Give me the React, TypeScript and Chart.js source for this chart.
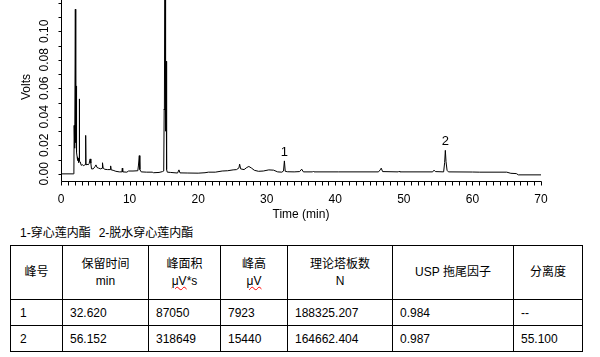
import React, { useEffect, useRef } from 'react';
import { Chart, registerables } from 'chart.js';

Chart.register(...registerables);

// Chromatogram trace: retention time (min) and detector signal (Volts)
const times = [
  0, 1.8, 1.88, 1.92, 1.97, 2.04, 2.09, 2.15, 2.2, 2.24, 2.29, 2.35, 2.42, 2.5, 2.58, 2.64, 2.67, 2.71,
  2.8, 2.95, 3.1, 3.25, 3.45, 3.56, 3.6, 3.65, 3.8, 3.95, 4.1, 4.25, 4.35, 4.45, 4.7, 4.95, 5.1, 5.25,
  5.5, 5.8, 5.98, 6.05, 6.15, 6.4, 6.8, 7.15, 7.24, 7.32, 7.6, 8.0, 8.5, 8.88, 8.94, 9.0, 9.6, 9.85,
  10.5, 11.2, 11.3, 11.42, 11.5, 11.7, 12.5, 13.3, 13.5, 14.3, 14.8, 14.98, 15.05, 15.08, 15.17, 15.25,
  15.33, 15.4, 15.5, 16.0, 17.0, 17.2, 17.35, 18.5, 20.0, 21.0, 21.5, 22.5, 23.5, 24.3, 25.1, 25.6,
  25.95, 26.05, 26.2, 26.7, 27.1, 27.4, 27.8, 28.2, 28.8, 29.5, 30.3, 31.0, 31.6, 32.2, 32.45, 32.58,
  32.7, 33.0, 34.0, 34.8, 35.1, 35.35, 36.7, 36.8, 36.9, 40.5, 46.3, 46.55, 46.7, 46.9, 49.2, 49.3,
  49.4, 54.2, 54.4, 54.6, 55.8, 55.95, 56.05, 56.15, 56.3, 56.5, 60.0, 61.0, 63.0, 65.0, 65.6, 66.4,
  66.7, 70.0,
];
const volts = [
  0, 0, 0.002, 0.034, 0.018, 0.025, 0.1155, 0.022, 0.03, 0.0617, 0.015, 0.012, 0.0095, 0.011, 0.008, 0.01, 0.0526, 0.009,
  0.0085, 0.006, 0.0065, 0.0058, 0.0062, 0.0065, 0.027, 0.0062, 0.0068, 0.0063, 0.0072, 0.0105, 0.0075, 0.0035, 0.0035, 0.005, 0.0063, 0.0045,
  0.004, 0.0035, 0.004, 0.0078, 0.004, 0.0032, 0.003, 0.003, 0.0056, 0.0028, 0.0025, 0.0018, 0.0014, 0.0014, 0.004, 0.0014, 0.0012, 0.002,
  0.002, 0.0022, 0.0062, 0.0128, 0.003, 0.0014, 0.0012, 0.0012, 0.0008, 0.001, 0.0016, 0.002, 0.0455, 0.045, 0.2, 0.03,
  0.079, 0.003, 0.0012, 0.001, 0.0006, 0.0028, 0.0007, 0.0006, 0.0005, 0.0008, 0.0012, 0.0012, 0.002, 0.0022, 0.0028, 0.003,
  0.0042, 0.0068, 0.0035, 0.003, 0.0045, 0.0052, 0.004, 0.0025, 0.0018, 0.002, 0.0028, 0.0026, 0.0014, 0.0012, 0.002, 0.0091,
  0.0018, 0.0015, 0.0014, 0.0016, 0.0033, 0.0014, 0.0014, 0.0019, 0.0014, 0.0014, 0.0014, 0.0028, 0.004, 0.0016, 0.0014, 0.0019,
  0.0014, 0.0014, 0.0026, 0.0016, 0.0014, 0.008, 0.0165, 0.0086, 0.0025, 0.0014, 0.0013, 0.0012, 0.0012, 0.0012, 0.0004, 0.0002,
  -0.0007, -0.0007,
];

const xMin = 0;
const xMax = 70;
const xMajorStep = 10;
const xMinorStep = 1;
const yMin = -0.005;
const yMax = 0.122;
const yMinorStep = 0.01;
const yTickValues = [0, 0.02, 0.04, 0.06, 0.08, 0.1];
const yTickLabels = ['0.00', '0.02', '0.04', '0.06', '0.08', '0.10'];

const peakNames = ['1', '2'];
const peakTimes = [32.58, 56.05];
const peakHeights = [0.0091, 0.0165];

const legendItems = ['1-穿心莲内酯', '2-脱水穿心莲内酯'];
const headers = [['峰号'], ['保留时间', 'min'], ['峰面积', 'μV*s'], ['峰高', 'μV'], ['理论塔板数', 'N'], ['USP 拖尾因子'], ['分离度']];
const rows = [
  ['1', '32.620', '87050', '7923', '188325.207', '0.984', '--'],
  ['2', '56.152', '318649', '15440', '164662.404', '0.987', '55.100'],
];

const FONT = '"Liberation Sans", Arial, "Noto Sans CJK SC", sans-serif';

const axesPlugin = {
  id: 'chromAxes',
  afterDraw(chart: any) {
    const { ctx, chartArea: a } = chart;
    const x = chart.scales.x;
    const y = chart.scales.y;
    ctx.save();
    ctx.strokeStyle = '#000';
    ctx.lineWidth = 1;
    const ax = Math.round(a.left) + 0.5;
    const ay = Math.round(a.bottom) + 0.5;
    ctx.beginPath();
    ctx.moveTo(ax, a.top);
    ctx.lineTo(ax, ay);
    ctx.lineTo(Math.round(a.right) + 0.5, ay);
    for (let t = xMin; t <= xMax + 1e-9; t += xMinorStep) {
      const px = Math.round(x.getPixelForValue(t)) + 0.5;
      ctx.moveTo(px, ay);
      ctx.lineTo(px, ay + 4);
    }
    for (let v = 0; v <= yMax + 1e-9; v += yMinorStep) {
      const py = Math.round(y.getPixelForValue(v)) + 0.5;
      ctx.moveTo(ax, py);
      ctx.lineTo(ax - 3, py);
    }
    ctx.stroke();

    ctx.fillStyle = '#000';
    ctx.font = '12px ' + FONT;
    ctx.textAlign = 'center';
    ctx.textBaseline = 'middle';
    for (let t = xMin; t <= xMax; t += xMajorStep) {
      ctx.fillText(String(t), x.getPixelForValue(t), ay + 18.5);
    }
    ctx.fillText('Time (min)', (a.left + a.right) / 2, ay + 33);

    yTickValues.forEach((v, i) => {
      ctx.save();
      ctx.translate(ax - 17, y.getPixelForValue(v));
      ctx.rotate(-Math.PI / 2);
      ctx.fillText(yTickLabels[i], 0, 0);
      ctx.restore();
    });
    ctx.save();
    ctx.translate(27, 87);
    ctx.rotate(-Math.PI / 2);
    ctx.fillText('Volts', 0, 0);
    ctx.restore();

    ctx.font = '13px ' + FONT;
    ctx.textBaseline = 'alphabetic';
    peakNames.forEach((n, i) => {
      ctx.fillText(n, x.getPixelForValue(peakTimes[i]), y.getPixelForValue(peakHeights[i]) - 5);
    });
    ctx.restore();
  },
};

function ChromChart() {
  const ref = useRef<HTMLCanvasElement | null>(null);
  useEffect(() => {
    if (!ref.current) return;
    const chart = new Chart(ref.current, {
      type: 'line',
      data: {
        datasets: [
          {
            data: times.map((t, i) => ({ x: t, y: volts[i] })),
            borderColor: '#000',
            borderWidth: 1,
            pointRadius: 0,
            tension: 0,
            fill: false,
          },
        ],
      },
      options: {
        animation: false,
        responsive: false,
        parsing: false as any,
        layout: { padding: { left: 61, right: 59, top: 0, bottom: 44 } },
        plugins: { legend: { display: false }, tooltip: { enabled: false } },
        scales: {
          x: { type: 'linear', min: xMin, max: xMax, display: false },
          y: { type: 'linear', min: yMin, max: yMax, display: false },
        },
      },
      plugins: [axesPlugin],
    });
    return () => chart.destroy();
  }, []);
  return <canvas ref={ref} width={600} height={225} style={{ position: 'absolute', left: 0, top: 0, width: 600, height: 225 }} />;
}

// table grid lines (page px)
const colEdges = [10, 62, 148, 220, 287, 392, 513, 582];
const rowEdges = [245, 299, 325, 351];

function CellText({ line }: { line: string }) {
  if (line.startsWith('μV')) {
    return (
      <div>
        <span style={{ textDecoration: 'underline wavy red', textDecorationThickness: 1 }}>μV</span>
        {line.slice(2)}
      </div>
    );
  }
  return <div>{line}</div>;
}

export default function App() {
  const textStyle: React.CSSProperties = { fontSize: 12, fontFamily: FONT, color: '#000' };
  const cell = (ci: number, ri: number): React.CSSProperties => ({
    position: 'absolute',
    left: colEdges[ci],
    top: rowEdges[ri],
    width: colEdges[ci + 1] - colEdges[ci] + 1,
    height: rowEdges[ri + 1] - rowEdges[ri] + 1,
    border: '1px solid #000',
    boxSizing: 'border-box',
    display: 'flex',
    flexDirection: 'column',
    justifyContent: 'center',
    ...textStyle,
  });
  return (
    <div style={{ position: 'absolute', left: 0, top: 0, width: 600, height: 357, background: '#fff', overflow: 'hidden' }}>
      <ChromChart />
      <div style={{ position: 'absolute', left: 20, top: 225, height: 16, lineHeight: '16px', whiteSpace: 'nowrap', ...textStyle }}>
        <span>{legendItems[0]}</span>
        <span style={{ marginLeft: 8 }}>{legendItems[1]}</span>
      </div>
      {headers.map((h, ci) => (
        <div key={'h' + ci} style={{ ...cell(ci, 0), alignItems: 'center', lineHeight: '17px', textAlign: 'center' }}>
          {h.map((line, j) => (
            <CellText key={j} line={line} />
          ))}
        </div>
      ))}
      {rows.map((r, ri) =>
        r.map((c, ci) => (
          <div key={ri + '-' + ci} style={{ ...cell(ci, ri + 1), alignItems: 'flex-start', paddingLeft: ci === 0 ? 9 : 7, lineHeight: '16px' }}>
            {c}
          </div>
        ))
      )}
    </div>
  );
}
